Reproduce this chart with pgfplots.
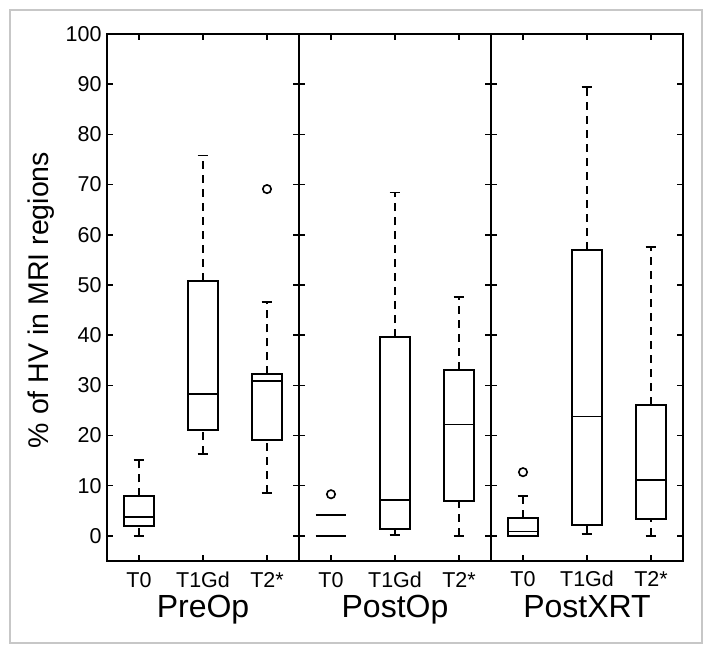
\documentclass[border=0pt]{standalone}
\usepackage{fontspec}
\setmainfont{Liberation Sans}
\usepackage{pgfplots}
\pgfplotsset{compat=1.18}
\usepgfplotslibrary{statistics}
\pgfplotsset{
  /pgfplots/boxplot/draw/lower whisker/.code={%
    \draw[black,line width=1.5bp,dash pattern=on 8bp off 6bp]
      (boxplot box cs:\pgfplotsboxplotvalue{lower whisker},0.5) --
      (boxplot box cs:\pgfplotsboxplotvalue{lower quartile},0.5);
    \draw[black,line width=1.8bp]
      (boxplot whisker cs:\pgfplotsboxplotvalue{lower whisker},0) --
      (boxplot whisker cs:\pgfplotsboxplotvalue{lower whisker},1);
  },
  /pgfplots/boxplot/draw/upper whisker/.code={%
    \draw[black,line width=1.5bp,dash pattern=on 8bp off 6bp]
      (boxplot box cs:\pgfplotsboxplotvalue{upper quartile},0.5) --
      (boxplot box cs:\pgfplotsboxplotvalue{upper whisker},0.5);
    \draw[black,line width=1.8bp]
      (boxplot whisker cs:\pgfplotsboxplotvalue{upper whisker},0) --
      (boxplot whisker cs:\pgfplotsboxplotvalue{upper whisker},1);
  },
  bx/.style={black, line width=1.8bp, solid,
    boxplot/draw direction=y,
    boxplot/box extend=0.48, boxplot/whisker extend=0.17,
    boxplot/every box/.style={line width=1.8bp},
    boxplot/every median/.style={line width=1.7bp}},
  outl/.style={only marks, mark=o, mark size=4.2bp, black,
    mark options={line width=1.6bp}},
  panel/.style={
    scale only axis, width=192bp, height=527bp,
    anchor=south west,
    xmin=0.5, xmax=3.5, ymin=-5, ymax=100,
    xtick={1,2,3}, xticklabels={T0,T1Gd,T2*},
    ytick={0,10,...,100},
    tick align=inside, major tick length=6bp,
    tick pos=both,
    axis line style={line width=1.7bp},
    every tick/.style={black, line width=1.5bp},
    /pgf/number format/assume math mode=true,
    tick label style={font=\fontsize{21.5bp}{25bp}\selectfont},
    yticklabel style={xshift=-2bp},
    xticklabel style={anchor=base, yshift=-26bp},
    xlabel style={font=\fontsize{32bp}{37bp}\selectfont, anchor=base,
      at={(axis description cs:0.5,0)}, yshift=-56bp},
    clip=false,
  },
}
\begin{document}
\begin{tikzpicture}
\path[use as bounding box] (0,0) rectangle (714bp,655bp);
\draw[black!22, line width=1.2bp] (10bp,12bp) rectangle (702bp,645bp);
\node[rotate=90, anchor=base, font=\fontsize{28.5bp}{33bp}\selectfont] at (48bp,355bp) {\% of HV in MRI regions};

\begin{axis}[panel, at={(107bp,94bp)}, xlabel={PreOp}]
\addplot[bx, boxplot prepared={draw position=1, lower whisker=0, lower quartile=1.9, median=3.8, upper quartile=7.9, upper whisker=15.1}] coordinates {};
\addplot[bx, boxplot prepared={draw position=2, lower whisker=16.3, lower quartile=21.1, median=28.3, upper quartile=50.8, upper whisker=75.8}] coordinates {};
\addplot[bx, boxplot prepared={draw position=3, lower whisker=8.6, lower quartile=19.1, median=30.8, upper quartile=32.2, upper whisker=46.6}] coordinates {};
\addplot[outl] coordinates {(3,69.1)};
\end{axis}

\begin{axis}[panel, at={(299bp,94bp)}, xlabel={PostOp}, yticklabels={}]
\addplot[black, line width=1.8bp] coordinates {(0.76,4.1) (1.24,4.1)};
\addplot[black, line width=1.8bp] coordinates {(0.76,0) (1.24,0)};
\addplot[outl] coordinates {(1,8.3)};
\addplot[bx, boxplot prepared={draw position=2, lower whisker=0.2, lower quartile=1.3, median=7.2, upper quartile=39.6, upper whisker=68.4}] coordinates {};
\addplot[bx, boxplot prepared={draw position=3, lower whisker=0, lower quartile=6.9, median=22.2, upper quartile=33.1, upper whisker=47.6}] coordinates {};
\end{axis}

\begin{axis}[panel, at={(491bp,94bp)}, xlabel={PostXRT}, yticklabels={}]
\addplot[bx, boxplot prepared={draw position=1, lower whisker=0, lower quartile=0, median=0.9, upper quartile=3.6, upper whisker=7.9}] coordinates {};
\addplot[outl] coordinates {(1,12.7)};
\addplot[bx, boxplot prepared={draw position=2, lower whisker=0.4, lower quartile=2.1, median=23.8, upper quartile=57.0, upper whisker=89.5}] coordinates {};
\addplot[bx, boxplot prepared={draw position=3, lower whisker=0, lower quartile=3.3, median=11.1, upper quartile=26.1, upper whisker=57.6}] coordinates {};
\end{axis}
\end{tikzpicture}
\end{document}
